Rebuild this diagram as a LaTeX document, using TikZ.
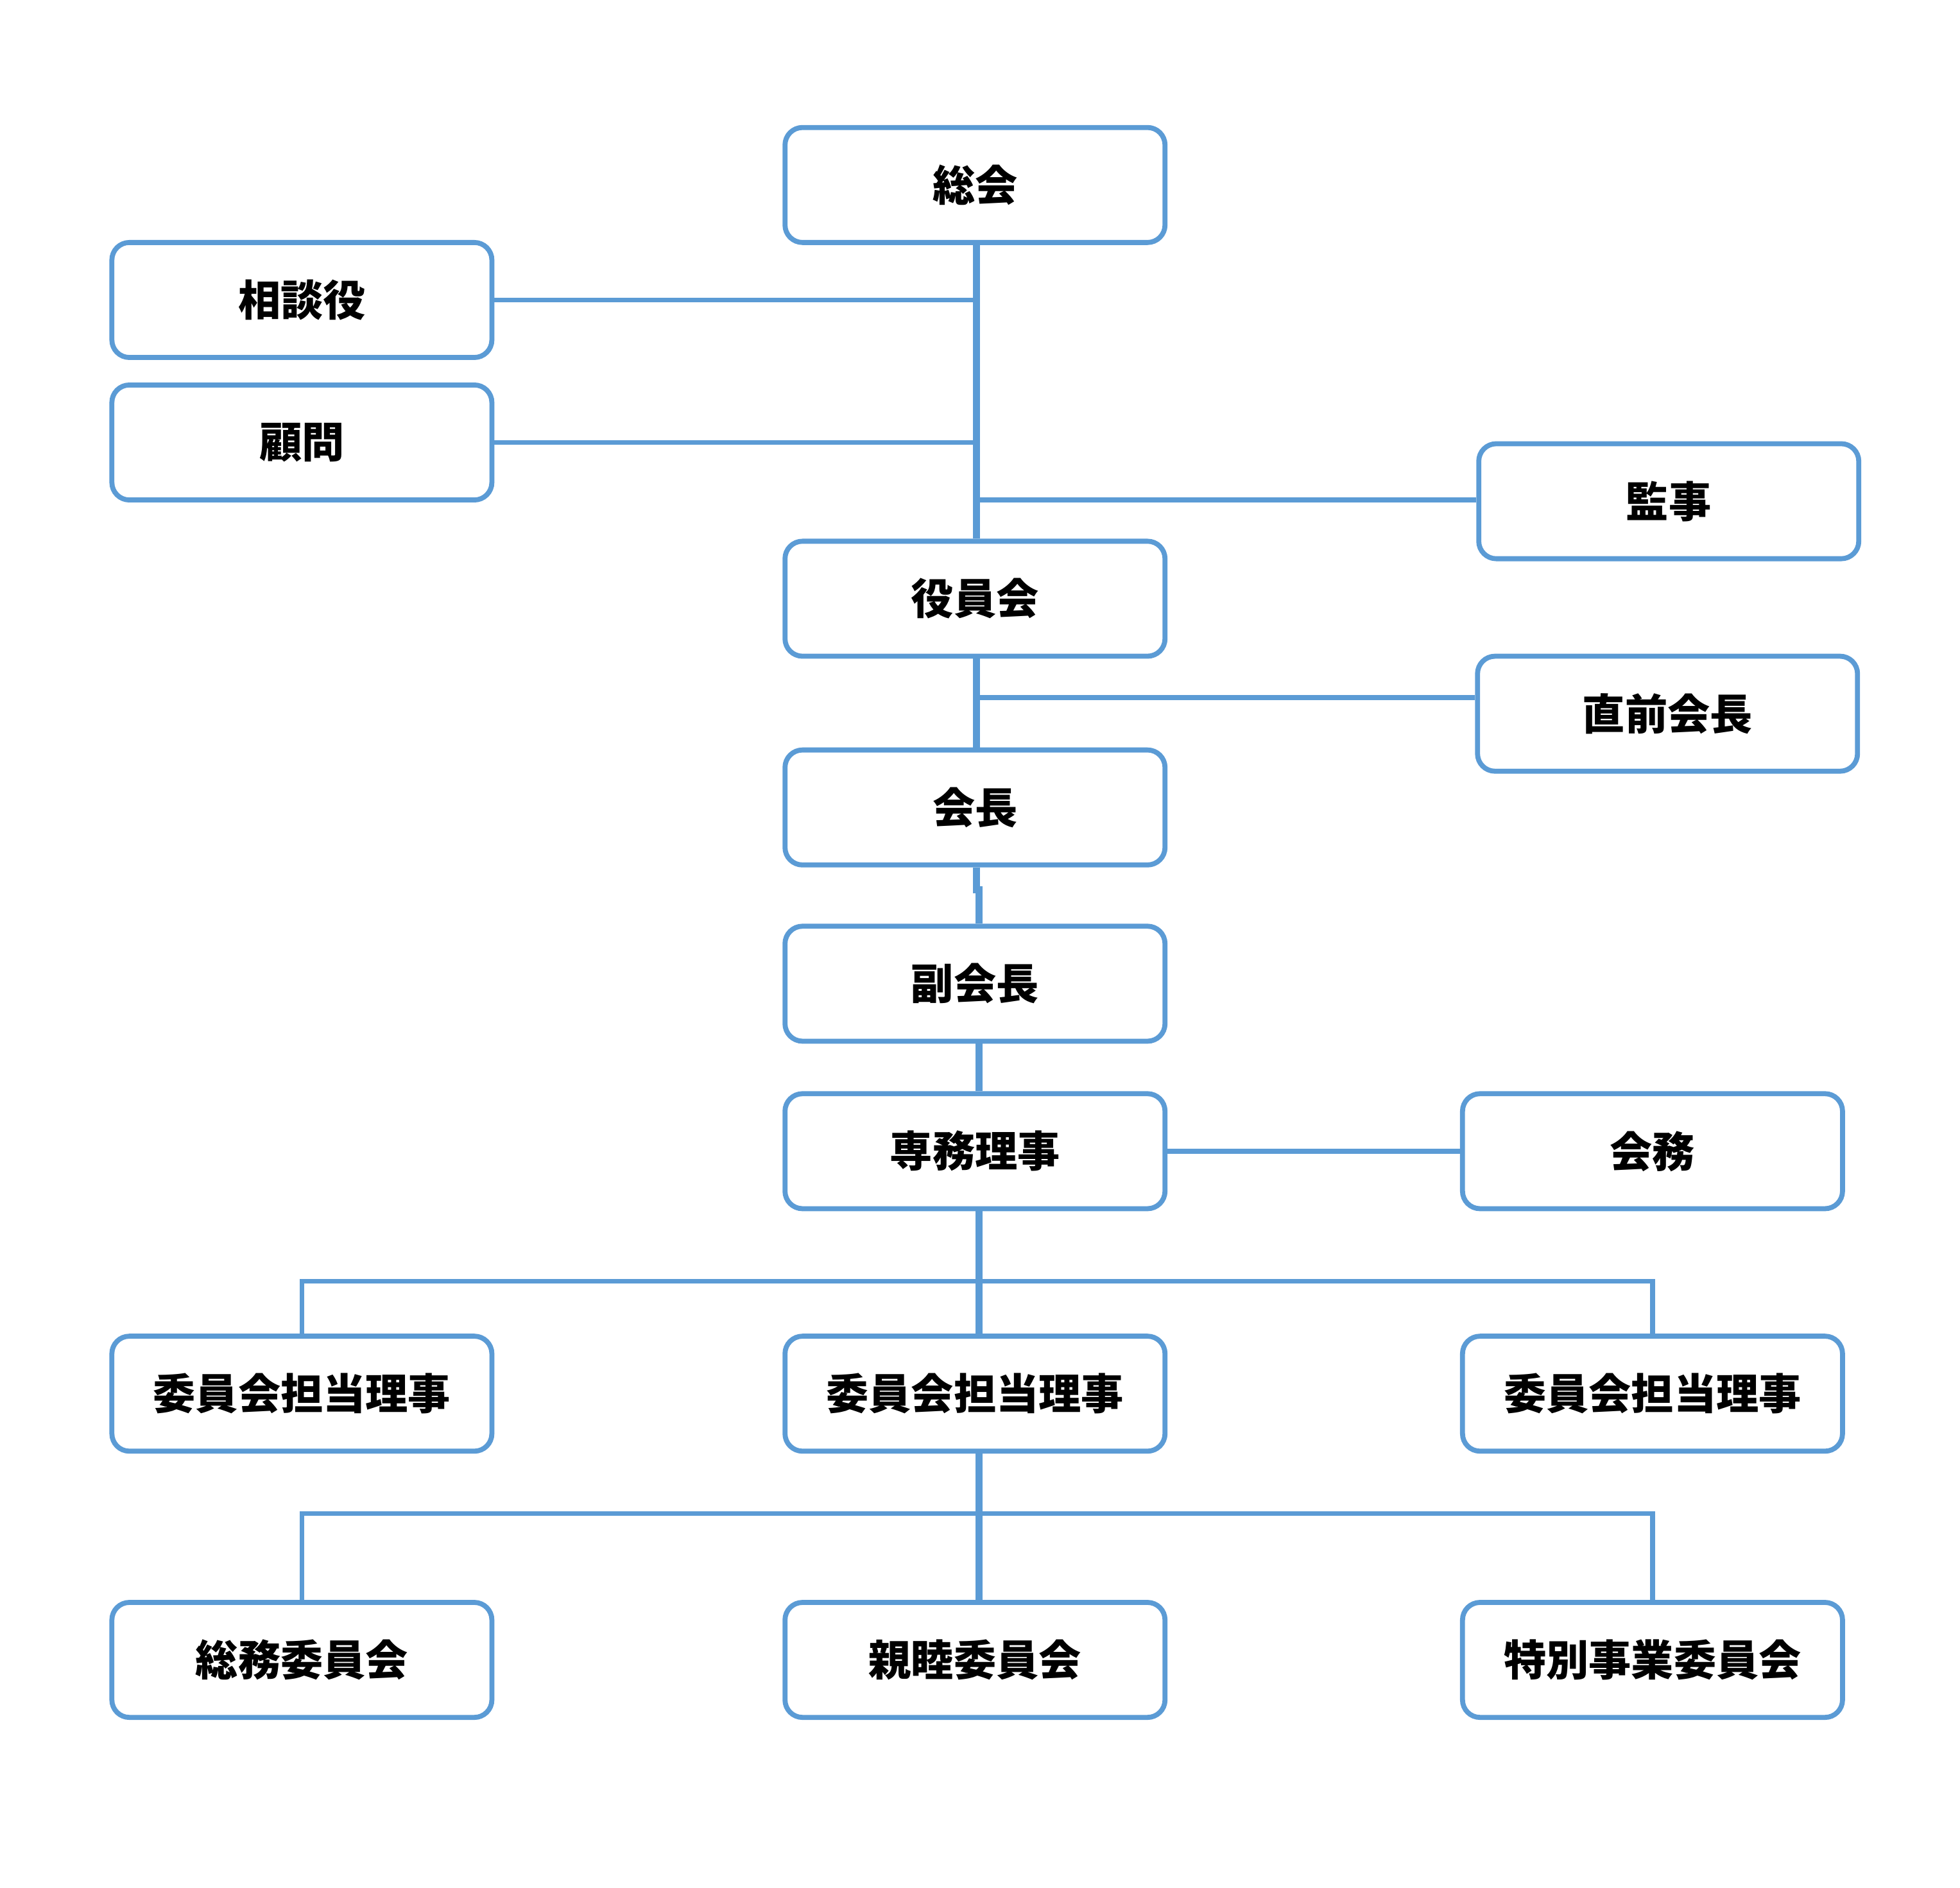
\documentclass[tikz,border=0pt]{standalone}
\usepackage{fontspec}
\newfontfamily\jp{Noto Sans CJK JP}
\definecolor{bl}{HTML}{5B9BD5}
\begin{document}
\begin{tikzpicture}[x=0.5pt,y=-0.5pt,
  box/.style={draw=bl,line width=2pt,rounded corners=7pt,fill=white,
    minimum width=152pt,minimum height=46pt,inner sep=0pt,
    font=\jp\bfseries\fontsize{17pt}{20pt}\selectfont},
  ln/.style={draw=bl,line width=1.9pt},
  trunk/.style={draw=bl,line width=2.8pt}]
\useasboundingbox (0,0) rectangle (1568,1510);
\node[box] (zs) at (780,148) {総会};
\node[box] (sd) at (241.5,240) {相談役};
\node[box] (km) at (241.5,354) {顧問};
\node[box] (kj) at (1335,401) {監事};
\node[box] (yk) at (780,479) {役員会};
\node[box] (zc) at (1334,571) {直前会長};
\node[box] (kc) at (780,646) {会長};
\node[box] (fk) at (780,787) {副会長};
\node[box] (sm) at (780,921) {専務理事};
\node[box] (km2) at (1322,921) {会務};
\node[box] (l1) at (241.5,1115) {委員会担当理事};
\node[box] (m1) at (780,1115) {委員会担当理事};
\node[box] (r1) at (1322,1115) {委員会担当理事};
\node[box] (l2) at (241.5,1328) {総務委員会};
\node[box] (m2) at (780,1328) {親睦委員会};
\node[box] (r2) at (1322,1328) {特別事業委員会};
\coordinate (j0) at (781,400);
\coordinate (j1) at (781,558);
\coordinate (jg) at (783,712);
\coordinate (b1) at (783,1025);
\coordinate (b2) at (783,1211);
\begin{scope}[on background layer/.style={}]
\end{scope}
\draw[trunk] (zs.south -| j0) -- (yk.north -| j0);
\draw[trunk] (yk.south -| j1) -- (kc.north -| j1);
\draw[trunk] (kc.south -| j1) -- (j1 |- jg) -- (jg) -- (fk.north -| jg);
\draw[trunk] (fk.south -| jg) -- (sm.north -| jg);
\draw[trunk] (sm.south -| b1) -- (m1.north -| b1);
\draw[trunk] (m1.south -| b2) -- (m2.north -| b2);
\draw[ln] (sd.east) -- (sd.east -| j0);
\draw[ln] (km.east) -- (km.east -| j0);
\draw[ln] (kj.west |- j0) -- (j0);
\draw[ln] (zc.west |- j1) -- (j1);
\draw[ln] (sm.east) -- (km2.west);
\draw[ln] (l1.north) |- (b1) -| (r1.north);
\draw[ln] (l2.north) |- (b2) -| (r2.north);
\end{tikzpicture}
\end{document}
